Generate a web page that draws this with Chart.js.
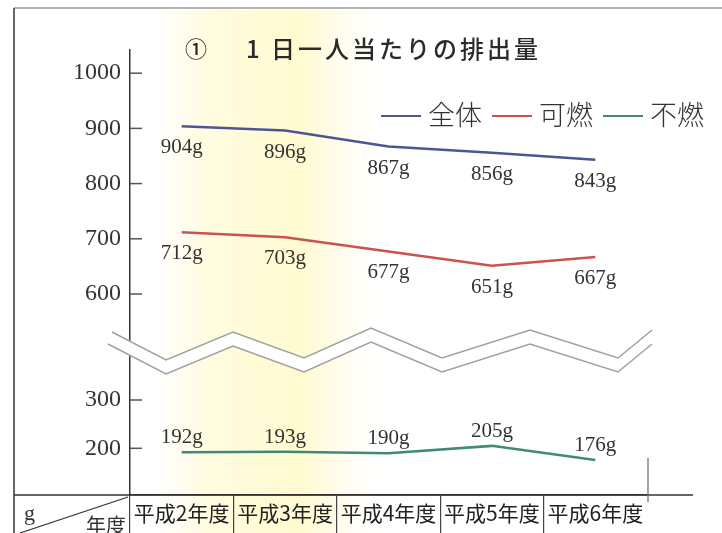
<!DOCTYPE html>
<html><head><meta charset="utf-8">
<script src="https://cdn.jsdelivr.net/npm/chart.js@4.4.0/dist/chart.umd.min.js"></script>
<style>html,body{margin:0;padding:0;background:#fff;overflow:hidden}canvas{display:block}</style>
</head><body>
<canvas id="c" width="722" height="533"></canvas>
<script>
// ---- data ----
const categories = ['平成2年度','平成3年度','平成4年度','平成5年度','平成6年度'];
const seriesNames = ['全体','可燃','不燃'];
const totalValues = [904, 896, 867, 856, 843];
const burnableValues = [712, 703, 677, 651, 667];
const nonBurnableValues = [192, 193, 190, 205, 176];
const upperTicks = [600, 700, 800, 900, 1000];
const lowerTicks = [200, 300];
const titleMark = '①';
const titleText = '1 日一人当たりの排出量';
const cornerUnit = 'g';
const cornerYear = '年度';

const colors = ['#4d5694', '#c9544f', '#3f8a7a'];
const SERIF = '"Liberation Serif", "Times New Roman", serif';
const CJK = '"Noto Sans CJK JP", "Noto Sans", sans-serif';

const decor = {
  id: 'decor',
  beforeDraw(chart) {
    const ctx = chart.ctx;
    ctx.save();
    ctx.fillStyle = '#ffffff';
    ctx.fillRect(0, 0, chart.width, chart.height);
    const g = ctx.createLinearGradient(150, 0, 380, 0);
    g.addColorStop(0, 'rgba(255,252,225,0)');
    g.addColorStop(0.25, 'rgba(255,251,215,0.8)');
    g.addColorStop(0.65, 'rgba(255,250,205,0.95)');
    g.addColorStop(1, 'rgba(255,252,225,0)');
    ctx.fillStyle = g;
    ctx.fillRect(150, 10, 230, chart.height - 10);
    ctx.restore();
  },
  afterDraw(chart) {
    const ctx = chart.ctx;
    const a = chart.chartArea;
    ctx.save();
    // frame lines
    ctx.strokeStyle = '#9a9a9a'; ctx.lineWidth = 1.5;
    ctx.beginPath(); ctx.moveTo(14, 8); ctx.lineTo(722, 8); ctx.stroke();
    ctx.strokeStyle = '#333'; ctx.lineWidth = 1.5;
    ctx.beginPath(); ctx.moveTo(14, 8); ctx.lineTo(14, 533); ctx.stroke();
    ctx.beginPath(); ctx.moveTo(14, a.bottom); ctx.lineTo(693, a.bottom); ctx.stroke();
    ctx.strokeStyle = '#666'; ctx.lineWidth = 1.2;
    ctx.beginPath(); ctx.moveTo(a.right + 1, 458); ctx.lineTo(a.right + 1, 502); ctx.stroke();
    // diagonal corner
    ctx.strokeStyle = '#333'; ctx.lineWidth = 1.2;
    ctx.beginPath(); ctx.moveTo(20, 533); ctx.lineTo(a.left - 2, a.bottom + 2); ctx.stroke();
    ctx.fillStyle = '#333';
    ctx.font = '22px ' + SERIF; ctx.textBaseline = 'middle'; ctx.textAlign = 'left';
    ctx.fillText(cornerUnit, 24, 514);
    ctx.font = '20px ' + CJK;
    ctx.fillText(cornerYear, 86, 525);
    // y tick marks inside
    ['yTop', 'yBot'].forEach(id => {
      const s = chart.scales[id];
      ctx.strokeStyle = '#555'; ctx.lineWidth = 1.5;
      s.ticks.forEach(t => {
        const y = s.getPixelForValue(t.value);
        ctx.beginPath(); ctx.moveTo(a.left, y); ctx.lineTo(a.left + 12, y); ctx.stroke();
      });
    });
    // zigzag break
    const up = [[112,332],[166,360],[233,332],[304,358],[371,328],[442,358],[530,330],[618,358],[652,330]];
    const dy = 14;
    ctx.fillStyle = '#ffffff';
    ctx.beginPath();
    up.forEach((p, i) => i ? ctx.lineTo(p[0], p[1]) : ctx.moveTo(p[0], p[1]));
    for (let i = up.length - 1; i >= 0; i--) ctx.lineTo(up[i][0], up[i][1] + dy);
    ctx.closePath(); ctx.fill();
    ctx.strokeStyle = '#a0a0a0'; ctx.lineWidth = 1.5;
    [0, dy].forEach(off => {
      ctx.beginPath();
      up.forEach((p, i) => i ? ctx.lineTo(p[0], p[1] + off) : ctx.moveTo(p[0] - (off ? 4 : 0), p[1] + off - (off ? 2 : 0)));
      ctx.stroke();
    });
    // title
    ctx.fillStyle = '#2a2a2a';
    ctx.textBaseline = 'middle'; ctx.textAlign = 'left';
    ctx.font = '500 22px ' + CJK;
    ctx.fillText(titleMark, 185, 49);
    ctx.font = '500 24px ' + CJK;
    ctx.letterSpacing = '3px';
    ctx.fillText(titleText, 246, 49);
    ctx.letterSpacing = '0px';
    // legend
    ctx.font = '300 27px ' + CJK;
    let x = 381;
    const ly = 116;
    chart.data.datasets.forEach((ds, i) => {
      ctx.strokeStyle = ds.borderColor; ctx.lineWidth = 2.2;
      ctx.beginPath(); ctx.moveTo(x, ly); ctx.lineTo(x + 40, ly); ctx.stroke();
      x += 47;
      ctx.fillStyle = '#333';
      ctx.fillText(ds.label, x, ly - 1);
      x += ctx.measureText(ds.label).width + 10;
    });
    ctx.restore();
  },
  afterDatasetsDraw(chart) {
    const ctx = chart.ctx;
    ctx.save();
    ctx.fillStyle = '#333';
    ctx.font = '21px ' + SERIF;
    ctx.textAlign = 'center';
    ctx.textBaseline = 'alphabetic';
    chart.data.datasets.forEach((ds, di) => {
      const meta = chart.getDatasetMeta(di);
      meta.data.forEach((pt, i) => {
        ctx.fillText(ds.data[i] + 'g', pt.x, pt.y + ds.labelOffset);
      });
    });
    ctx.restore();
  }
};

const lineColor = ctx => ctx.type === 'tick' ? '#444' : 'rgba(0,0,0,0)';

new Chart(document.getElementById('c'), {
  type: 'line',
  data: {
    labels: categories,
    datasets: [
      { label: seriesNames[0], data: totalValues, yAxisID: 'yTop', borderColor: colors[0], labelOffset: 27 },
      { label: seriesNames[1], data: burnableValues, yAxisID: 'yTop', borderColor: colors[1], labelOffset: 27 },
      { label: seriesNames[2], data: nonBurnableValues, yAxisID: 'yBot', borderColor: colors[2], labelOffset: -9 }
    ].map(d => Object.assign(d, { borderWidth: 2.5, pointRadius: 0, tension: 0, fill: false }))
  },
  options: {
    responsive: false,
    animation: false,
    layout: { padding: { top: 50, right: 75, left: 0, bottom: 0 } },
    plugins: { legend: { display: false }, title: { display: false }, tooltip: { enabled: false } },
    scales: {
      x: {
        type: 'category',
        offset: true,
        grid: {
          offset: true, drawOnChartArea: false, drawTicks: true, tickLength: 38, lineWidth: 1.2,
          color: lineColor, tickColor: lineColor
        },
        border: { display: true, color: '#333', width: 1.5 },
        ticks: { color: '#222', font: { family: CJK, size: 21 }, padding: -33, maxRotation: 0, autoSkip: false },
        afterFit: s => { s.height = 38; }
      },
      yBot: {
        type: 'linear', position: 'left', stack: 'v', stackWeight: 149, offset: false,
        min: 103.3, max: 411.8,
        grid: { display: false, drawTicks: false },
        border: { display: true, color: '#333', width: 1.5 },
        ticks: { color: '#333', font: { family: SERIF, size: 24 }, padding: 9, callback: v => String(v) },
        afterBuildTicks: s => { s.ticks = lowerTicks.map(v => ({ value: v })); },
        afterFit: s => { s.width = 130; }
      },
      yTop: {
        type: 'linear', position: 'left', stack: 'v', stackWeight: 296, offset: false,
        min: 505.8, max: 1042,
        grid: { display: false, drawTicks: false },
        border: { display: true, color: '#333', width: 1.5 },
        ticks: { color: '#333', font: { family: SERIF, size: 24 }, padding: 9, callback: v => String(v) },
        afterBuildTicks: s => { s.ticks = upperTicks.map(v => ({ value: v })); },
        afterFit: s => { s.width = 130; }
      }
    }
  },
  plugins: [decor]
});
</script>
</body></html>
